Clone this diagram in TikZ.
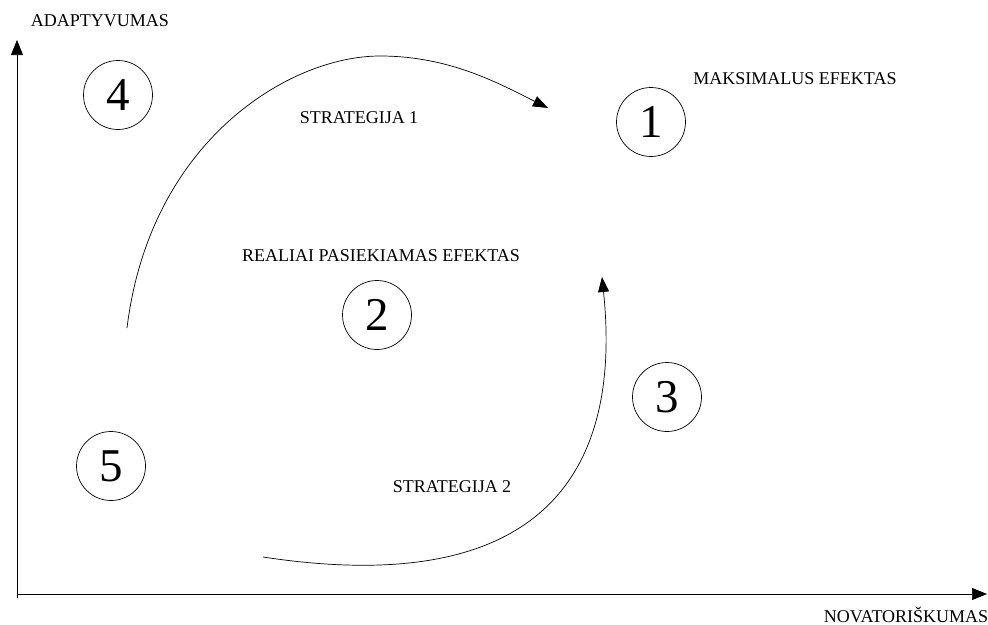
\documentclass[tikz,border=0pt]{standalone}
\usepackage{fontspec}
\setmainfont{Liberation Serif}
\usetikzlibrary{arrows.meta}
\begin{document}
\begin{tikzpicture}[x=1pt,y=-1pt,
  num/.style={draw,circle,minimum size=69pt,inner sep=0pt,line width=0.7pt,font=\fontsize{47}{47}\selectfont},
  lbl/.style={anchor=base,inner sep=0pt,font=\fontsize{18}{18}\selectfont},
  axis/.style={line width=0.7pt,-{Triangle[length=15pt,width=12pt]}},
  strat/.style={line width=0.7pt,-{Triangle[length=15pt,width=11pt]}}]
\useasboundingbox (0,0) rectangle (988,624);
% axes
\coordinate (o) at (17,594);
\coordinate (ytop) at (17,40);
\coordinate (xend) at (987,594);
\draw[axis] (17,598) -- (ytop);
\draw[axis] (o) -- (xend);
% labels
\node[lbl] (ylab) at (100,26) {ADAPTYVUMAS};
\node[lbl] (xlab) at (906,622) {NOVATORIŠKUMAS};
\node[lbl] (max) at (795,84) {MAKSIMALUS EFEKTAS};
\node[lbl] (s1) at (359,123) {STRATEGIJA 1};
\node[lbl] (real) at (381,261) {REALIAI PASIEKIAMAS EFEKTAS};
\node[lbl] (s2) at (452,492) {STRATEGIJA 2};
% circles
\node[num] (c1) at (651,122) {1};
\node[num] (c2) at (377,315) {2};
\node[num] (c3) at (667,397) {3};
\node[num] (c4) at (118,95) {4};
\node[num] (c5) at (111,466) {5};
% strategy curves
\coordinate (a1) at (127,328);
\coordinate (a2) at (548,108);
\draw[strat] (a1) .. controls (150,140) and (290,56) .. (380,56)
  .. controls (450,56) and (500,84) .. (a2);
\coordinate (b1) at (263,557);
\coordinate (b2) at (602,277);
\draw[strat] (b1) .. controls (545,600) and (622,470) .. (b2);
\end{tikzpicture}
\end{document}
